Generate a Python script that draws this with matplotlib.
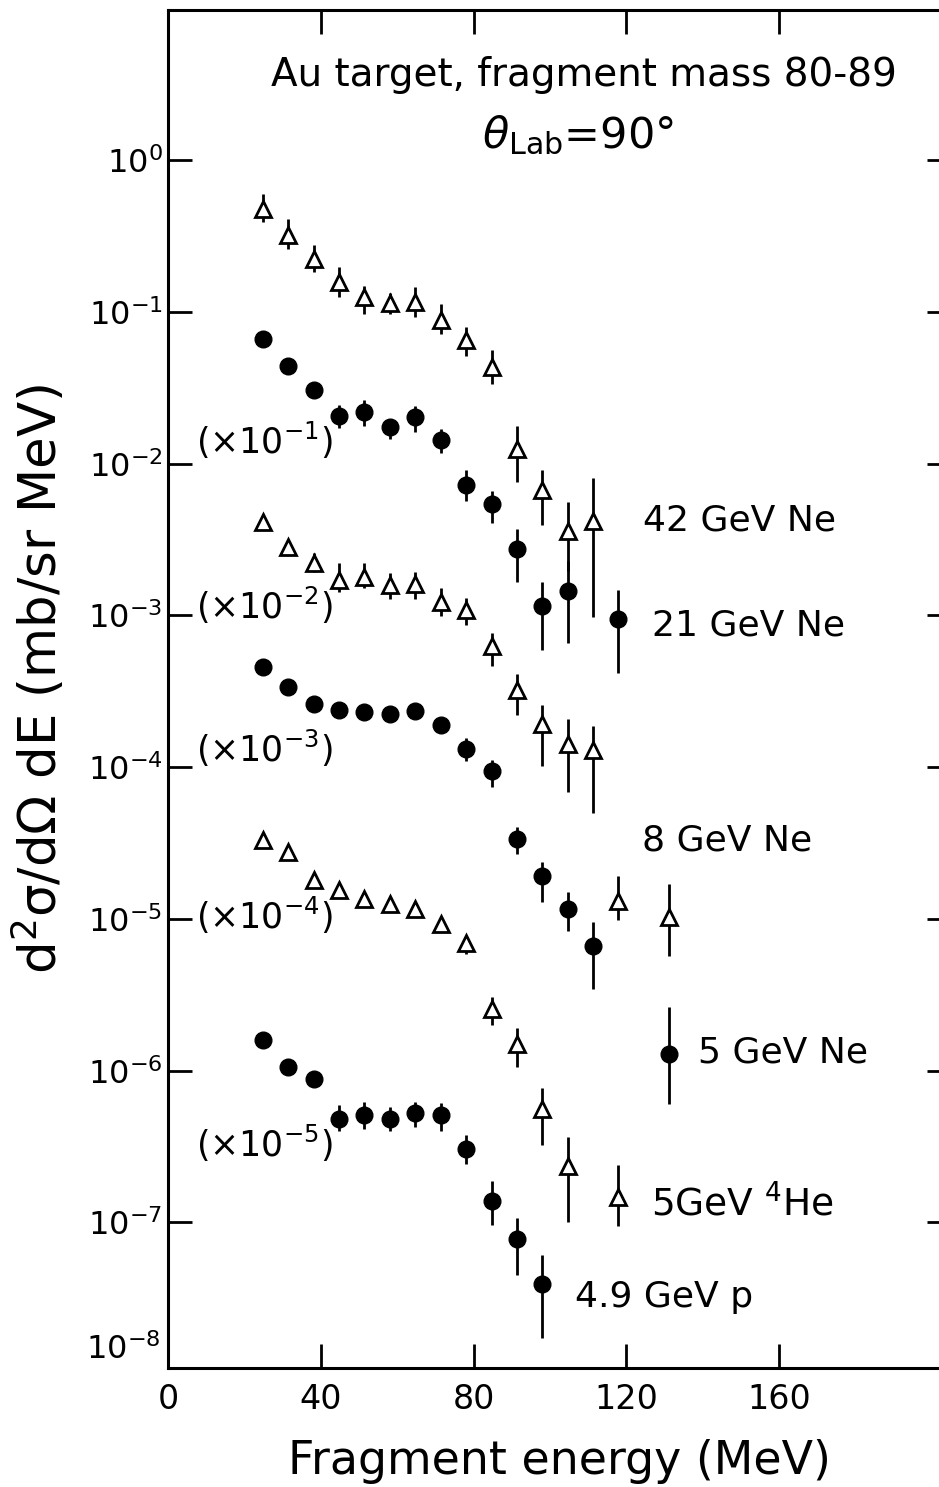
import matplotlib.pyplot as plt
import matplotlib.transforms as mtransforms
from matplotlib.ticker import NullLocator
import numpy as np

plt.rcParams['font.family'] = ['DejaVu Sans']
plt.rcParams['mathtext.fontset'] = 'dejavusans'
plt.rcParams['mathtext.default'] = 'regular'

# fragment energy bins (MeV)
E = [24.8, 31.5, 38.1, 44.8, 51.4, 58.1, 64.7, 71.4, 78.0, 84.7, 91.3,
     98.0, 104.6, 111.3, 117.9, 124.6, 131.2]

# cross sections (mb/sr MeV), errors given as log10 half-widths (up, down)
ne42_x = E[:14]
ne42_y = [0.48, 0.32, 0.225, 0.158, 0.126, 0.114, 0.116, 0.088, 0.065,
          0.0434, 0.0126, 0.0067, 0.0036, 0.0042]
ne42_up = [0.10, 0.11, 0.09, 0.10, 0.07, 0.07, 0.10, 0.11, 0.09, 0.11,
           0.15, 0.13, 0.19, 0.28]
ne42_dn = [0.09, 0.09, 0.09, 0.10, 0.11, 0.07, 0.10, 0.09, 0.10, 0.11,
           0.22, 0.23, 0.26, 0.63]

ne21_x = E[:13] + [E[14]]
ne21_y = [0.668, 0.438, 0.305, 0.208, 0.219, 0.175, 0.203, 0.144, 0.072,
          0.054, 0.0275, 0.0115, 0.0145, 0.0095]
ne21_up = [0, 0, 0, 0.07, 0.08, 0.05, 0.07, 0.07, 0.10, 0.09, 0.13, 0.16,
           0.20, 0.19]
ne21_dn = [0, 0, 0, 0.08, 0.09, 0.08, 0.10, 0.09, 0.10, 0.12, 0.22, 0.29,
           0.34, 0.36]

ne8_x = E[:15] + [E[16]]
ne8_y = [0.413, 0.282, 0.221, 0.172, 0.179, 0.158, 0.162, 0.1225, 0.109,
         0.0625, 0.0321, 0.0194, 0.0143, 0.0129, 0.00132, 0.00103]
ne8_up = [0, 0, 0.07, 0.11, 0.09, 0.08, 0.08, 0.09, 0.08, 0.09, 0.11, 0.12,
          0.16, 0.16, 0.16, 0.22]
ne8_dn = [0, 0, 0.06, 0.08, 0.07, 0.09, 0.10, 0.09, 0.10, 0.13, 0.16, 0.28,
          0.32, 0.41, 0.13, 0.26]

ne5_x = E[:14] + [E[16]]
ne5_y = [0.457, 0.337, 0.262, 0.237, 0.231, 0.225, 0.234, 0.189, 0.132,
         0.095, 0.0338, 0.0192, 0.0117, 0.00659, 0.00129]
ne5_up = [0, 0, 0, 0, 0, 0, 0, 0, 0.07, 0.07, 0.08, 0.09, 0.11, 0.16, 0.31]
ne5_dn = [0, 0, 0, 0, 0, 0, 0, 0, 0.08, 0.11, 0.10, 0.17, 0.15, 0.28, 0.33]

he5_x = E[:13] + [E[14]]
he5_y = [0.333, 0.276, 0.181, 0.154, 0.136, 0.125, 0.117, 0.092, 0.0692,
         0.0256, 0.0149, 0.00561, 0.00237, 0.00147]
he5_up = [0, 0, 0, 0, 0, 0, 0, 0, 0, 0.08, 0.11, 0.14, 0.19, 0.21]
he5_dn = [0, 0, 0, 0, 0, 0, 0, 0, 0.07, 0.11, 0.15, 0.24, 0.37, 0.19]

p49_x = E[:12]
p49_y = [0.160, 0.105, 0.0885, 0.0482, 0.0507, 0.0482, 0.0525, 0.0507,
         0.0306, 0.0138, 0.0078, 0.00394]
p49_up = [0, 0, 0, 0.09, 0.09, 0.08, 0.07, 0.08, 0.09, 0.13, 0.14, 0.19]
p49_dn = [0, 0, 0, 0.08, 0.09, 0.08, 0.09, 0.10, 0.10, 0.16, 0.24, 0.36]

scales = [1, 1e-1, 1e-2, 1e-3, 1e-4, 1e-5]
markers = ['^', 'o', '^', 'o', '^', 'o']

fig = plt.figure(figsize=(9.39, 14.87), dpi=100)
ax = fig.add_axes([0.1789, 0.0800, 0.834, 0.9132])
ax.set_yscale('log')
ax.set_xlim(0, 205)
ax.set_ylim(10**-7.96, 10**0.99)

data = [(ne42_x, ne42_y, ne42_up, ne42_dn), (ne21_x, ne21_y, ne21_up, ne21_dn),
        (ne8_x, ne8_y, ne8_up, ne8_dn), (ne5_x, ne5_y, ne5_up, ne5_dn),
        (he5_x, he5_y, he5_up, he5_dn), (p49_x, p49_y, p49_up, p49_dn)]

for (x, y, up, dn), s, m in zip(data, scales, markers):
    yp = np.array(y) * s
    hi = yp * (10**np.array(up) - 1)
    lo = yp * (1 - 10**-np.array(dn))
    ax.errorbar(x, yp, yerr=[lo, hi], fmt='none', ecolor='black',
                elinewidth=2, capsize=0, zorder=2)
    if m == '^':
        ax.plot(x, yp, ls='none', marker='^', ms=11, mfc='white',
                mec='black', mew=2, zorder=3)
    else:
        ax.plot(x, yp, ls='none', marker='o', ms=12, mfc='black',
                mec='black', zorder=3)

# beam labels
fs = 26
ax.text(124.3, 4.2e-3, '42 GeV Ne', fontsize=fs, va='center')
ax.text(126.7, 8.6e-4, '21 GeV Ne', fontsize=fs, va='center')
ax.text(124.1, 3.3e-5, '8 GeV Ne', fontsize=fs, va='center')
ax.text(138.7, 1.32e-6, '5 GeV Ne', fontsize=fs, va='center')
ax.text(126.4, 1.33e-7, '5GeV $^4$He', fontsize=fs + 1, va='center')
ax.text(106.5, 3.2e-8, '4.9 GeV p', fontsize=fs, va='center')

# scale factors
for ypos, k in zip([1.43e-2, 1.17e-3, 1.33e-4, 1.05e-5, 3.3e-7],
                   range(1, 6)):
    ax.text(7.3, ypos, '(\u00d710$^{-%d}$)' % k, fontsize=25, va='center')

ax.text(109.0, 3.63, 'Au target, fragment mass 80-89', fontsize=28,
        ha='center', va='center')
ax.text(107.3, 1.46, r'$\mathit{\theta}_{Lab}$=90°', fontsize=31,
        ha='center', va='center')

ax.set_xticks([0, 40, 80, 120, 160])
ax.set_xticklabels(['0', '40', '80', '120', '160'])
decades = list(range(0, -8, -1))
ax.set_yticks([10.0**d for d in decades])
ax.set_yticklabels(['$10^{%d}$' % d for d in decades])
ax.yaxis.set_minor_locator(NullLocator())
ax.tick_params(axis='both', which='major', direction='in', length=17,
               width=2, top=True, right=True)
ax.tick_params(axis='x', labelsize=24, pad=11)
ax.tick_params(axis='y', labelsize=23, pad=4)
trans = mtransforms.blended_transform_factory(ax.transAxes, ax.transData)
ax.text(-0.009, 10**-7.84, '$10^{-8}$', fontsize=23, ha='right',
        va='center', transform=trans)

for sp in ax.spines.values():
    sp.set_linewidth(2.2)

ax.set_xlabel('Fragment energy (MeV)', fontsize=33)
ax.xaxis.set_label_coords(0.5, -0.052)
ax.set_ylabel('d$^2$σ/dΩ dE (mb/sr MeV)', fontsize=37)
ax.yaxis.set_label_coords(-0.128, 0.507)

fig.savefig('out.png', dpi=100)
